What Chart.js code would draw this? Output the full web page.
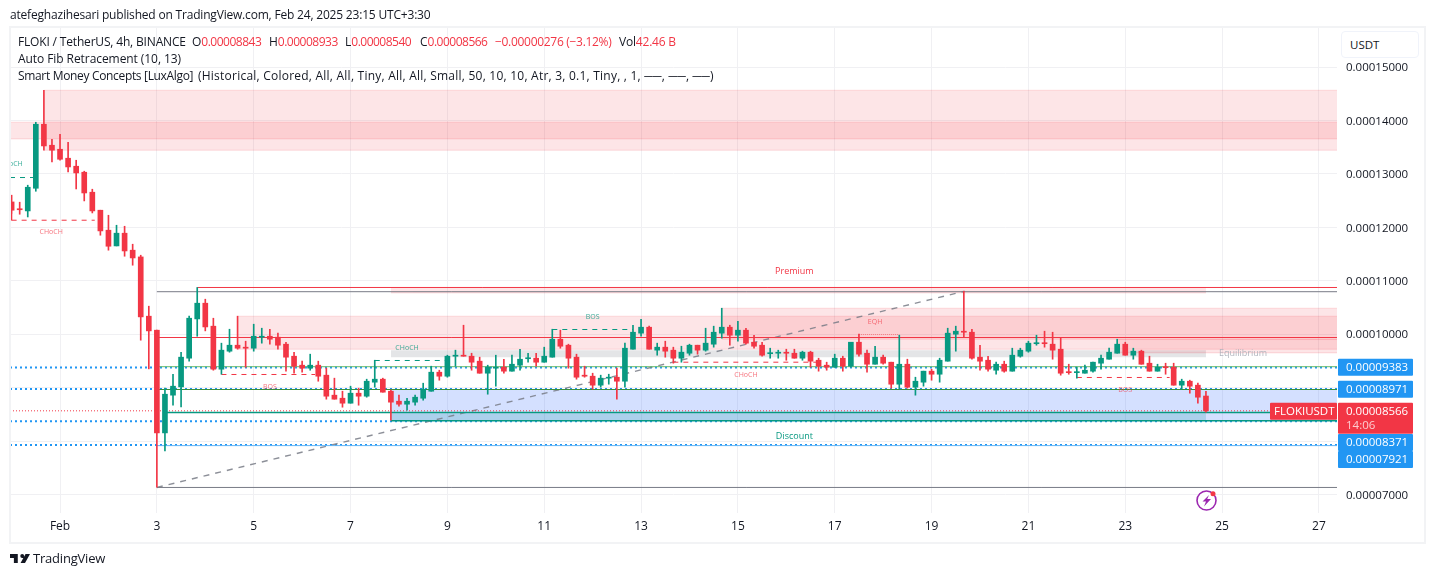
<!DOCTYPE html>
<html><head><meta charset="utf-8">
<script src="https://cdn.jsdelivr.net/npm/chart.js@4/dist/chart.umd.min.js"></script>
<style>
html,body{margin:0;padding:0;background:#fff;width:1433px;height:576px;overflow:hidden;font-family:"Open Sans",Roboto,sans-serif;color:#131722}
#frame{position:absolute;left:9px;top:26px;width:1413px;height:514px;border:2px solid #f2f3f5;pointer-events:none}
canvas{position:absolute;left:0;top:0}
.t{position:absolute;white-space:pre;font-size:12px;line-height:16px}
.r{color:#f23645}
.n{letter-spacing:-0.5px}
#usdt{position:absolute;left:1341px;top:31px;width:76px;height:25px;border:1px solid #f0f3fa;border-radius:4px;font-size:11.5px;line-height:25px;text-indent:8px;background:#fff}
</style></head><body>
<canvas id="c" width="1433" height="576"></canvas>
<div id="frame"></div>
<div class="t" style="left:10px;top:7px;letter-spacing:-0.19px">atefeghazihesari published on TradingView.com, Feb 24, 2025 23:15 UTC+3:30</div>
<div class="t" style="left:18px;top:34px;letter-spacing:-0.17px">FLOKI / TetherUS, 4h, BINANCE</div>
<div class="t" style="left:192px;top:34px">O<span class="r n">0.00008843</span></div>
<div class="t" style="left:269px;top:34px">H<span class="r n">0.00008933</span></div>
<div class="t" style="left:345px;top:34px">L<span class="r n">0.00008540</span></div>
<div class="t" style="left:420px;top:34px">C<span class="r n">0.00008566</span></div>
<div class="t r n" style="left:495px;top:34px;letter-spacing:-0.3px">−0.00000276 (−3.12%)</div>
<div class="t" style="left:619px;top:34px;letter-spacing:-0.2px">Vol<span class="r">42.46 B</span></div>
<div class="t" style="left:18px;top:51px;letter-spacing:-0.07px">Auto Fib Retracement (10, 13)</div>
<div class="t" style="left:18px;top:68px;letter-spacing:-0.33px">Smart Money Concepts [LuxAlgo]</div>
<div class="t" style="left:198px;top:68px;letter-spacing:0.23px">(Historical, Colored, All, All, Tiny, All, All, Small, 50, 10, 10, Atr, 3, 0.1, Tiny, , 1, ──, ──, ──)</div>
<div id="usdt">USDT</div>
<svg style="position:absolute;left:1195px;top:489px" width="24" height="24" viewBox="0 0 24 24">
<circle cx="11.5" cy="11.5" r="9.5" fill="#fff" stroke="#9c27b0" stroke-width="1.6"/>
<path d="M14 6 L7.5 12.5 H11 L9 17.5 L16 10 H12.2 Z" fill="#9c27b0"/>
<circle cx="18" cy="4.8" r="2.5" fill="#f23645"/></svg>
<svg style="position:absolute;left:10px;top:552px" width="20" height="13" viewBox="0 0 36 20">
<path d="M0 2H14V18H7V9H0Z M22 2A3.5 3.5 0 1 1 22 9A3.5 3.5 0 0 1 22 2Z M28 2H36L27 18H19Z" fill="#131722"/></svg>
<div class="t" style="left:33px;top:550px;font-size:13px;letter-spacing:-0.2px">TradingView</div>
<script>
// Candles, prices in units of 0.00000001 USDT; first candle is 6 candles before Feb 1 00:00.
const firstCandle = -6;
const opens = [12475,12339,12307,12731,13929,13536,13461,13293,13143,13031,12657,12320,11946,11652,11890,11572,11446,10337,10075,8153,8859,9014,9551,10286,10580,10150,9345,9682,9794,9757,9738,9944,9962,9944,9813,9588,9420,9364,9420,9233,8859,8802,8709,8896,8840,9102,9158,8933,8746,8690,8728,8802,8933,9289,9214,9588,9607,9588,9495,9270,9364,9382,9308,9420,9541,9551,9476,9570,9906,9794,9570,9233,9214,9046,9177,9195,9120,9719,10019,10131,9701,9757,9701,9551,9644,9794,9701,9813,10019,10131,9981,10075,9850,9794,9635,9644,9654,9644,9551,9663,9513,9420,9382,9551,9401,9850,9644,9438,9570,9476,9064,9438,9008,9102,9308,9251,9495,10000,10047,10037,9570,9513,9326,9438,9308,9588,9682,9822,9832,9813,9719,9289,9280,9270,9308,9457,9532,9644,9813,9607,9682,9457,9308,9382,9382,9046,9120,9046,8843];
const highs = [12601,12470,12788,13966,14565,13648,13742,13592,13255,13050,12713,12320,12226,12039,12020,11684,11478,10524,10075,8990,9251,9663,10337,10874,10655,10299,9832,10093,10337,9869,10187,10112,10093,10019,9850,9663,9495,9626,9495,9364,9177,8933,9027,8990,9158,9513,9177,8952,8859,8802,8859,9083,9401,9326,9607,9701,10168,9644,9570,9420,9607,9532,9607,9719,9644,9644,9757,10093,10075,9813,9626,9401,9270,9233,9251,9364,9832,10168,10280,10150,9832,9869,9757,9775,9813,9794,10112,10150,10486,10168,10243,10112,9981,9850,9738,9701,9719,9719,9682,9682,9551,9476,9626,9588,9850,10000,9701,9775,9607,9476,9981,9532,9195,9308,9345,9551,10112,10150,10804,10093,9794,9588,9476,9495,9738,9738,9869,9981,10056,10037,9925,9438,9382,9420,9476,9607,9738,9906,9850,9738,9701,9588,9438,9457,9457,9158,9139,9083,8933];
const lows = [12264,12245,12194,12675,13443,13224,13255,13036,12718,12494,12269,11852,11572,11652,11459,11291,9888,9351,7137,7816,8671,8640,9495,9962,10062,9326,9251,9663,9719,9382,9682,9832,9813,9719,9308,9270,9289,9326,9120,8784,8784,8634,8709,8671,8821,9008,8915,8391,8653,8578,8671,8765,8933,9139,9195,9401,9588,9326,9270,8877,9027,9270,9308,9326,9476,9401,9476,9570,9738,9364,9158,9195,8971,9008,9064,8784,9008,9719,9962,9719,9607,9570,9457,9476,9607,9626,9682,9757,9925,9794,9869,9813,9738,9588,9551,9551,9513,9551,9513,9382,9308,9326,9382,9308,9382,9588,9289,9438,9438,8990,8971,8990,8859,9027,9139,9102,9495,9682,9944,9532,9326,9308,9251,9289,9308,9570,9663,9794,9757,9532,9233,9251,9177,9270,9289,9345,9532,9644,9607,9532,9438,9308,9308,9251,9046,8971,8896,8709,8540];
const closes = [12320,12329,12750,13929,13523,13443,13274,13130,13018,12643,12307,11933,11646,11890,11558,11427,10324,10062,8153,8877,9027,9570,10299,10580,10136,9345,9701,9794,9738,9738,9962,9962,9906,9794,9570,9401,9364,9420,9214,8840,8784,8709,8896,8840,9120,9158,8915,8728,8690,8746,8821,8971,9289,9214,9588,9607,9588,9476,9270,9382,9382,9308,9438,9532,9551,9476,9588,9906,9775,9551,9195,9214,9046,9177,9195,9120,9738,10037,10131,9719,9757,9682,9551,9663,9794,9701,9832,10037,10131,9981,10075,9832,9775,9607,9644,9663,9644,9551,9663,9495,9401,9382,9551,9401,9850,9626,9438,9570,9457,9064,9438,9008,9120,9308,9251,9513,10019,10056,10037,9551,9495,9345,9438,9308,9607,9701,9832,9832,9822,9701,9270,9280,9289,9326,9476,9551,9663,9813,9607,9682,9438,9308,9382,9373,9046,9120,9027,8821,8566];

// Axis ticks: position counted in candles from Feb 1 00:00
const xTickCandles = [0,12,24,36,48,60,72,84,96,108,120,132,144,156];
const xTickLabels = ['Feb','3','5','7','9','11','13','15','17','19','21','23','25','27'];
const yTickValues = [7000,8000,9000,10000,11000,12000,13000,14000,15000];
const yHiddenLabels = [8000,9000];

const kMin = -6.2, kMax = 158.24, pMin = 6654, pMax = 15730;

// Zones: from candle, to candle, top price, bottom price
const redZones = [[-2,kMax,14565,13443],[kMin,kMax,13967,13654],[22,kMax,10337,9719],[82,kMax,10486,9906],[131,kMax,9900,9650],[41,142,10874,10773]];
const greyZones = [[41,142,9701,9570]];
const blueZones = [[41,kMax,8965,8385]];
const tealZones = [[41,142,8522,8381]];

// Level lines: from candle, to candle, price
const redLevels = [[17,kMax,10874],[12,kMax,9938]];
const greyLevels = [[12,kMax,10795],[12,kMax,7132]];
const lightGreenLevels = [[12,kMax,9392]];
const darkGreenLevels = [[12,kMax,8965]];
const tealLevels = [[13,kMax,8535],[41,kMax,8381]];
const blueLevels = [[12,kMax,7915]];
const dottedBlueLevels = [[kMin,kMax,9378],[kMin,kMax,8975],[kMin,kMax,8371],[kMin,kMax,7925]];
const lastPriceLevels = [[kMin,kMax,8566]];
const tealDashes = [[kMin,-3,12932],[39,48,9508],[61,71,10088]];
const redDashes = [[-6,4.3,12133],[20,31.6,9246],[76,93.8,9476],[126,137.5,9190]];
const pinkDots = [[99,104,9994]];
const fibDiagonal = [[12,7132],[112.1,10804]];
const chochStem = [[-6,12264],[-6,12133]];

// Text marks: candle, price, text
const tealNotes = [[-6.07,13181,'CHoCH'],[43,9751,'CHoCH'],[66,10324,'BOS'],[91,8091,'Discount']];
const redNotes = [[-1.1,11908,'CHoCH'],[26,9014,'BOS'],[85,9238,'CHoCH'],[101,10219,'EQH'],[132,8965,'BOS'],[91,11179,'Premium']];
const greyNotes = [[146.6,9635,'Equilibrium']];

// Price tags on the axis
const blueTags = [[9383,367.2],[8971,389.2],[8371,442.5],[7921,459.5]];

const GREEN='#089981', RED='#f23645', ff='"Open Sans",Roboto,sans-serif';
const isUp = i => closes[i] >= opens[i];
const cols = opens.map((_,i)=> isUp(i)?GREEN:RED);
const ds = [];
ds.push({type:'bar',grouped:false,order:1,barThickness:1,backgroundColor:cols,
  data:opens.map((_,i)=>({x:firstCandle+i,y:[lows[i],highs[i]]}))});
ds.push({type:'bar',grouped:false,order:0,barThickness:5,backgroundColor:cols,minBarLength:1,
  data:opens.map((_,i)=>({x:firstCandle+i,y:[opens[i],closes[i]]}))});
function line(pts,color,w,dash,order){
  ds.push({type:'line',order:order||3,data:pts.map(p=>({x:p[0],y:p[1]})),borderColor:color,borderWidth:w,borderDash:dash||[],pointRadius:0,fill:false,tension:0,parsing:true});
}
function levels(arr,color,w,dash,order){arr.forEach(a=>line([[a[0],a[2]],[a[1],a[2]]],color,w,dash,order));}
function zones(arr,fill,edge){arr.forEach(z=>{
  ds.push({type:'line',order:6,data:[{x:z[0],y:z[2]},{x:z[1],y:z[2]}],borderColor:edge,borderWidth:1,pointRadius:0,fill:{value:z[3]},backgroundColor:fill});
  line([[z[0],z[3]],[z[1],z[3]]],edge,1,[],5);
});}
zones(redZones,'rgba(242,54,69,0.13)','rgba(242,54,69,0.15)');
zones(greyZones,'rgba(120,123,134,0.2)','rgba(120,123,134,0)');
zones(blueZones,'rgba(41,98,255,0.2)','rgba(41,98,255,0.1)');
zones(tealZones,'rgba(0,150,136,0.2)','rgba(8,153,129,0)');
levels(dottedBlueLevels,'#2196f3',2,[2,3],4);
levels(lightGreenLevels,'#66bb6a',1,[],3);
levels(darkGreenLevels,'#388e3c',1,[],3);
levels(blueLevels,'#64b5f6',1,[],3);
levels(redLevels,RED,1,[],3);
levels(greyLevels,'#787b86',1,[],3);
levels(tealLevels,'#089981',1.5,[],3);
levels(lastPriceLevels,RED,1,[1,2],3);
levels(tealDashes,GREEN,1,[5,5],3);
levels(redDashes,RED,1,[5,5],3);
levels(pinkDots,'#f77c80',1,[1,1],3);
line(fibDiagonal,'rgba(120,123,134,0.85)',1.4,[6,6],3);
line(chochStem,RED,1,[],3);

const overlay = {id:'overlay',afterDraw(ch){
  const c=ch.ctx,X=ch.scales.x,Y=ch.scales.y,a=ch.chartArea;
  c.save();c.beginPath();c.rect(a.left,a.top,a.right-a.left,a.bottom-a.top);c.clip();
  c.textAlign='center';c.textBaseline='middle';
  const notes=(arr,col,bigCol)=>arr.forEach(n=>{
    const big=n[2].length>5;
    c.font=(big?'9px ':'7px ')+ff;c.fillStyle=big?bigCol:col;
    c.fillText(n[2],X.getPixelForValue(n[0]),Y.getPixelForValue(n[1]));});
  notes(tealNotes,'rgba(8,153,129,0.8)','#089981');
  notes(redNotes,'rgba(242,54,69,0.7)','#f23645');
  notes(greyNotes,'#b2b5be','#b2b5be');
  c.restore();
  // tags
  const tag=(x,y,w,h,col)=>{c.fillStyle=col;c.beginPath();c.roundRect(x,y,w,h,1);c.fill();};
  c.textBaseline='middle';c.textAlign='left';
  const f='11.5px '+ff;
  blueTags.forEach(t=>{
    const yy=t[1];
    tag(1338,yy-8.5,75,17,'#2196f3');
    c.fillStyle='#fff';c.font=f;c.fillText((t[0]/1e8).toFixed(8),1346,yy+0.5);
  });
  const last=closes[closes.length-1],ly=Y.getPixelForValue(last);
  tag(1338,ly-8,75,31,RED);
  c.fillStyle='#fff';c.font=f;c.fillText((last/1e8).toFixed(8),1346,ly+1);
  c.fillStyle='rgba(255,255,255,0.75)';c.fillText('14:06',1346,ly+15);
  tag(1270,ly-8,67,17,RED);
  c.fillStyle='#fff';c.font=f;c.fillText('FLOKIUSDT',1274,ly+1);
}};

new Chart(document.getElementById('c'),{
  type:'bar',
  data:{datasets:ds},
  plugins:[overlay],
  options:{
    responsive:false,animation:false,devicePixelRatio:1,
    layout:{padding:{left:10,right:0,top:28,bottom:0}},
    plugins:{legend:{display:false},tooltip:{enabled:false},title:{display:false}},
    scales:{
      x:{type:'linear',min:kMin,max:kMax,offset:false,
        afterBuildTicks:s=>{s.ticks=xTickCandles.map(v=>({value:v}));},
        afterFit:s=>{s.height=63;},
        grid:{color:'#f0f0f3',drawTicks:false,offset:false},border:{display:false},
        ticks:{autoSkip:false,maxRotation:0,padding:6,color:'#131722',font:{family:ff,size:12},
          callback:v=>{const i=xTickCandles.indexOf(v);return i<0?'':xTickLabels[i];}}},
      y:{type:'linear',position:'right',min:pMin,max:pMax,
        afterBuildTicks:s=>{s.ticks=yTickValues.map(v=>({value:v}));},
        afterFit:s=>{s.width=96;},
        grid:{color:'#f0f0f3',drawTicks:false},border:{display:false},
        ticks:{padding:9,color:'#131722',align:'center',labelOffset:1,font:{family:ff,size:11.5},
          callback:v=>yHiddenLabels.includes(v)?'':(v/1e8).toFixed(8)}}
    }
  }
});
</script>
</body></html>
